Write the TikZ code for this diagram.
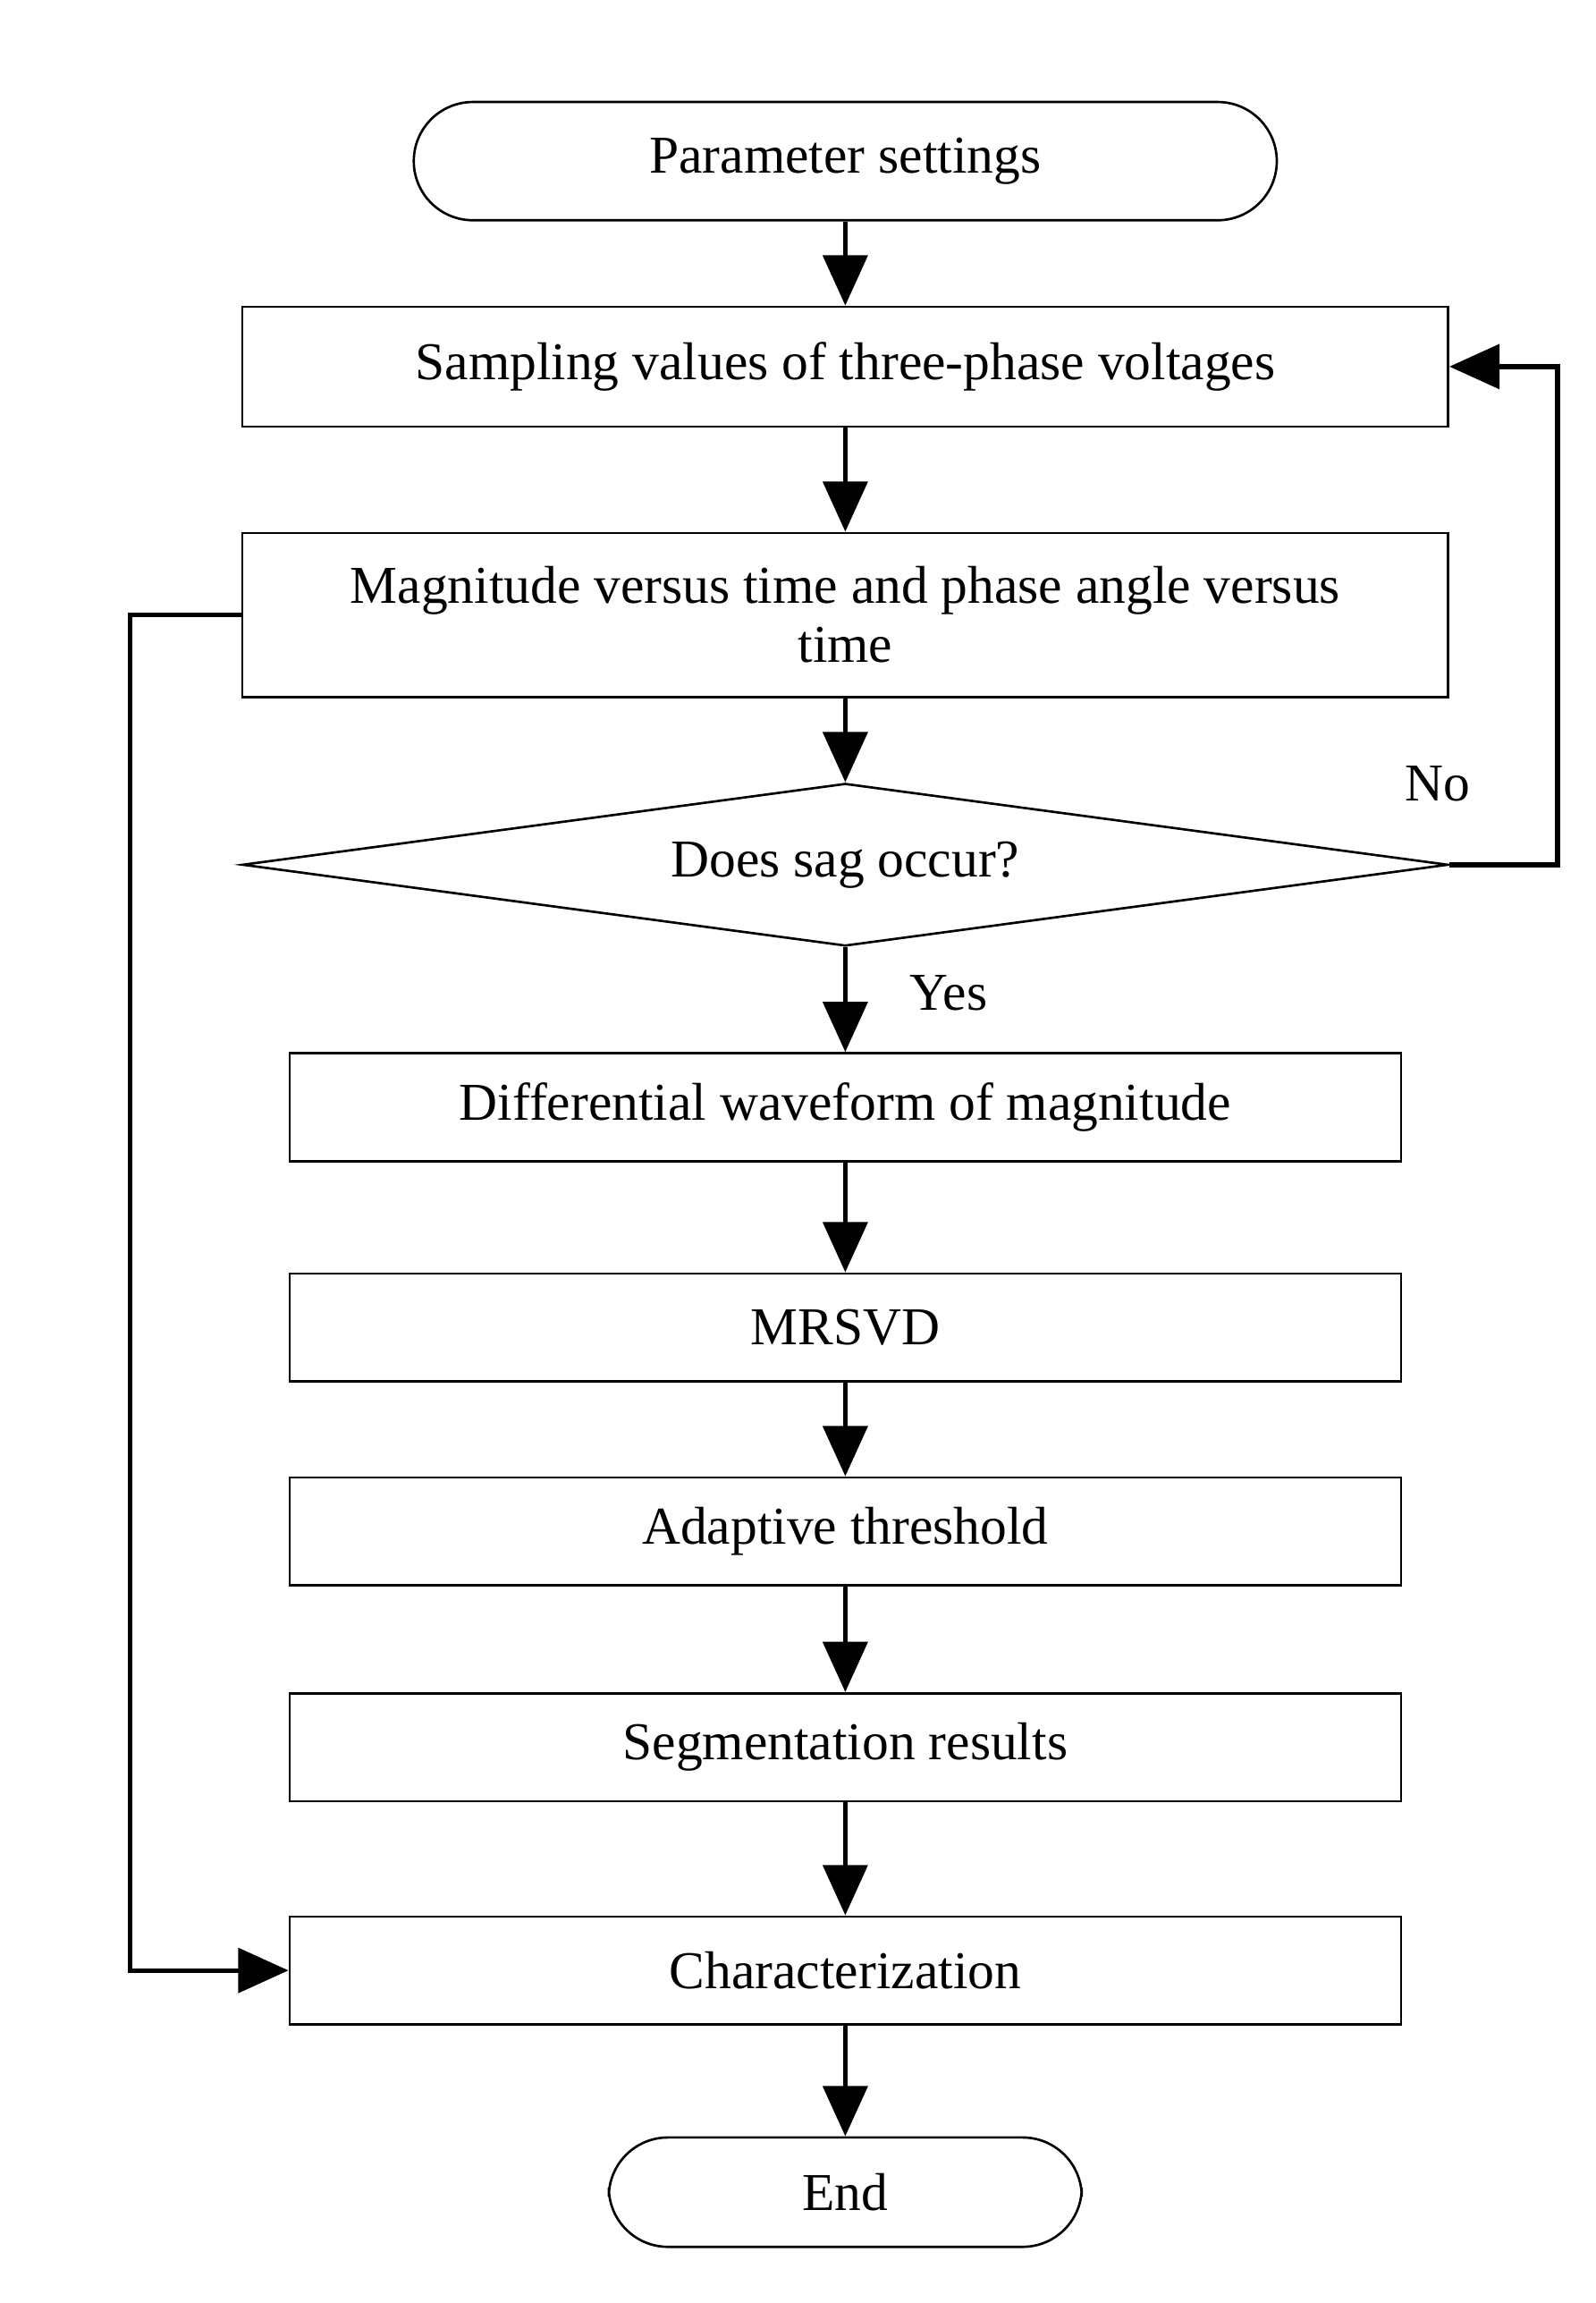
\documentclass[tikz,border=0pt]{standalone}
\usepackage{fontspec}
\setmainfont{Liberation Serif}
\usetikzlibrary{shapes.geometric,arrows.meta}
\begin{document}
\begin{tikzpicture}[x=0.5pt,y=-0.5pt,
  box/.style={draw,line width=0.8pt,minimum height=#1*0.5pt,inner sep=0pt,font=\fontsize{18}{22}\selectfont,align=center},
  term/.style={draw,line width=0.8pt,rounded corners=20pt,inner sep=0pt,font=\fontsize{18}{22}\selectfont},
  arr/.style={line width=1.6pt,-{Triangle[length=17pt,width=15pt]}},
  lbl/.style={font=\fontsize{18}{22}\selectfont}]
\useasboundingbox (0,0) rectangle (1080,1558);
\node[term,minimum width=292pt,minimum height=40pt] (start) at (572,109) {Parameter settings};
\node[box=81,minimum width=408pt] (b1) at (572,248) {Sampling values of three-phase voltages};
\node[box=111,minimum width=408pt] (b2) at (572,416) {Magnitude versus time and phase angle versus\\[-2pt] time};
\node[draw,line width=0.8pt,diamond,aspect=7.4,minimum width=408pt,minimum height=55pt,inner sep=0pt,font=\fontsize{18}{22}\selectfont] (d) at (572,585) {Does sag occur?};
\node[box=73,minimum width=376pt] (b3) at (572,749) {Differential waveform of magnitude};
\node[box=73,minimum width=376pt] (b4) at (572,898) {MRSVD};
\node[box=73,minimum width=376pt] (b5) at (572,1036) {Adaptive threshold};
\node[box=73,minimum width=376pt] (b6) at (572,1182) {Segmentation results};
\node[box=73,minimum width=376pt] (b7) at (572,1333) {Characterization};
\node[term,minimum width=160pt,minimum height=37pt] (end) at (572,1483) {End};
\draw[arr] (start) -- (b1);
\draw[arr] (b1) -- (b2);
\draw[arr] (b2) -- (d.north);
\draw[arr] (d.south) -- (b3);
\draw[arr] (b3) -- (b4);
\draw[arr] (b4) -- (b5);
\draw[arr] (b5) -- (b6);
\draw[arr] (b6) -- (b7);
\draw[arr] (b7) -- (end);
\coordinate (n1) at (1054,585);
\coordinate (n2) at (1054,248);
\draw[arr] (d.east) -- (n1) -- (n2) -- (b1.east);
\coordinate (l1) at (88,416);
\coordinate (l2) at (88,1333);
\draw[arr] (b2.west) -- (l1) -- (l2) -- (b7.west);
\node[lbl] (no) at (973,530) {No};
\node[lbl] (yes) at (642,672) {Yes};
\end{tikzpicture}
\end{document}
